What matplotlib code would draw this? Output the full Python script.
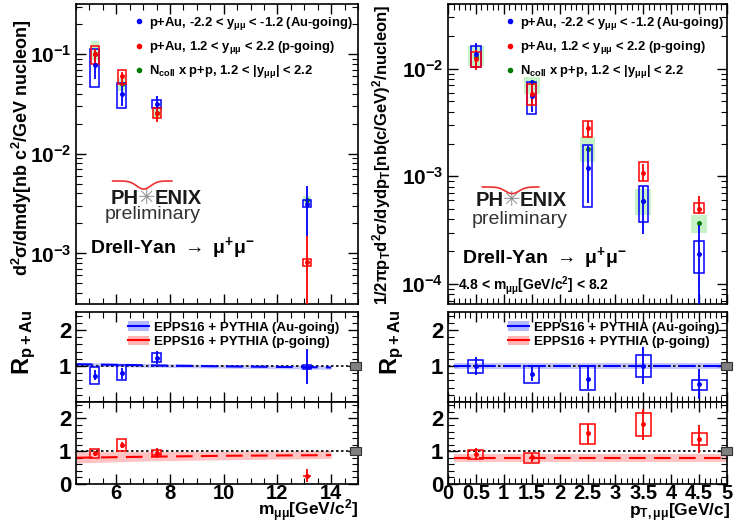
import numpy as np
import matplotlib
matplotlib.use('Agg')
import matplotlib.pyplot as plt
from matplotlib.patches import Rectangle, Patch
from matplotlib.lines import Line2D
from matplotlib.ticker import (MultipleLocator, FormatStrFormatter, NullFormatter,
                               FixedLocator, FixedFormatter)

plt.rcParams['font.family'] = ['Liberation Sans', 'DejaVu Sans']
plt.rcParams['font.weight'] = 'bold'
plt.rcParams['mathtext.fontset'] = 'custom'
plt.rcParams['mathtext.rm'] = 'Liberation Sans:bold'
plt.rcParams['mathtext.it'] = 'Liberation Sans:bold'
plt.rcParams['mathtext.bf'] = 'Liberation Sans:bold'
plt.rcParams['mathtext.default'] = 'rm'

# ---- mass spectrum (left) ----
mass_bins = [5.2, 6.2, 7.5, 13.1]
mass_au = [0.078, 0.040, 0.032, 0.0031]
mass_au_lo = [0.056, 0.030, 0.027, 0.0015]
mass_au_hi = [0.107, 0.050, 0.038, 0.0047]
mass_au_slo = [0.047, 0.029, 0.029, 0.0029]
mass_au_shi = [0.112, 0.052, 0.035, 0.0034]

mass_p = [0.100, 0.060, 0.026, 0.00081]
mass_p_lo = [0.080, 0.048, 0.021, 0.0001]
mass_p_hi = [0.112, 0.066, 0.029, 0.0015]
mass_p_slo = [0.079, 0.050, 0.023, 0.00074]
mass_p_shi = [0.120, 0.069, 0.029, 0.00087]

mass_pp = [0.100, 0.050, 0.026, 0.0034]
mass_pp_lo = [0.088, 0.043, 0.023, 0.0032]
mass_pp_hi = [0.135, 0.058, 0.029, 0.0038]

# ---- pT spectrum (right) ----
pt_bins = [0.5, 1.5, 2.5, 3.5, 4.5]
pt_au = [0.0138, 0.0056, 0.0012, 0.00059, 0.00019]
pt_au_lo = [0.0104, 0.0040, 0.00057, 0.00029, 0.00005]
pt_au_hi = [0.0175, 0.0078, 0.0019, 0.00081, 0.00035]
pt_au_slo = [0.0104, 0.0038, 0.00052, 0.00038, 0.000127]
pt_au_shi = [0.0164, 0.0076, 0.00195, 0.00081, 0.00025]

pt_p = [0.0124, 0.0058, 0.0028, 0.00107, 0.00050]
pt_p_lo = [0.0098, 0.0045, 0.0023, 0.00090, 0.00045]
pt_p_hi = [0.0150, 0.0072, 0.0033, 0.00130, 0.00065]
pt_p_slo = [0.0104, 0.0046, 0.0023, 0.00090, 0.00046]
pt_p_shi = [0.0144, 0.0072, 0.0033, 0.00135, 0.00056]

pt_pp = [0.0130, 0.0076, 0.0018, 0.00059, 0.00037]
pt_pp_lo = [0.0107, 0.0058, 0.00135, 0.00044, 0.00030]
pt_pp_hi = [0.0164, 0.0084, 0.0023, 0.00076, 0.00044]

# ---- R_pAu vs mass ----
rm_au = [0.73, 0.80, 1.22, 0.97]
rm_au_lo = [0.60, 0.65, 1.05, 0.49]
rm_au_hi = [0.90, 0.95, 1.42, 1.47]
rm_au_slo = [0.50, 0.60, 1.10, 0.92]
rm_au_shi = [0.97, 1.03, 1.35, 1.03]

rm_p = [0.94, 1.18, 0.95, 0.24]
rm_p_lo = [0.85, 1.10, 0.80, 0.05]
rm_p_hi = [1.02, 1.27, 1.10, 0.45]
rm_p_slo = [0.80, 1.00, 0.87, 0.24]
rm_p_shi = [1.08, 1.38, 1.05, 0.24]

theo_m = [4.5, 7.0, 10.0, 14.0]
theo_m_au = [1.05, 1.02, 0.99, 0.96]
theo_m_au_lo = [1.00, 0.97, 0.94, 0.91]
theo_m_au_hi = [1.10, 1.07, 1.04, 1.01]
theo_m_p = [0.80, 0.83, 0.86, 0.88]
theo_m_p_lo = [0.64, 0.70, 0.74, 0.78]
theo_m_p_hi = [0.98, 0.99, 1.00, 1.02]

# ---- R_pAu vs pT ----
rp_au = [1.00, 0.78, 0.65, 1.00, 0.49]
rp_au_lo = [0.75, 0.58, 0.35, 0.50, 0.08]
rp_au_hi = [1.25, 0.98, 1.00, 1.52, 0.92]
rp_au_slo = [0.80, 0.54, 0.32, 0.70, 0.33]
rp_au_shi = [1.17, 1.00, 1.00, 1.30, 0.61]

rp_p = [0.90, 0.82, 1.55, 1.82, 1.36]
rp_p_lo = [0.72, 0.66, 1.21, 1.35, 0.94]
rp_p_hi = [1.10, 0.94, 1.82, 2.30, 1.79]
rp_p_slo = [0.77, 0.64, 1.21, 1.45, 1.18]
rp_p_shi = [1.03, 0.94, 1.82, 2.15, 1.55]

theo_pt = [0.1, 5.0]
theo_pt_au = [1.00, 1.00]
theo_pt_au_lo = [0.93, 0.93]
theo_pt_au_hi = [1.08, 1.08]
theo_pt_p = [0.80, 0.80]
theo_pt_p_lo = [0.67, 0.67]
theo_pt_p_hi = [0.92, 0.92]

BLUE = '#0000ff'
RED = '#ff0000'
GREEN = '#007a00'
LGREEN = '#c6f2c6'
LBLUE = '#b4b8ff'
LRED = '#ffb4b4'

W, H = 735, 525
fig = plt.figure(figsize=(W / 100, H / 100), dpi=100)


def px_axes(x0, y0, x1, y1):
    return fig.add_axes([x0 / W, 1 - y1 / H, (x1 - x0) / W, (y1 - y0) / H])


def style(ax):
    ax.tick_params(which='both', direction='in', top=True, right=True, labelsize=13)
    ax.tick_params(which='major', length=7, width=1)
    ax.tick_params(which='minor', length=4, width=0.8)
    for s in ax.spines.values():
        s.set_linewidth(1.2)


def draw_series(ax, x, y, lo, hi, slo, shi, color, w):
    for xi, a, b in zip(x, slo, shi):
        ax.add_patch(Rectangle((xi - w / 2, a), w, b - a, fill=False, ec=color, lw=1.1, zorder=3))
    y = np.array(y)
    ax.errorbar(x, y, yerr=[y - np.array(lo), np.array(hi) - y], fmt='o', ms=2.5,
                color=color, elinewidth=1.3, capsize=0, zorder=4)


def draw_pp(ax, x, y, lo, hi, w):
    for xi, a, b in zip(x, lo, hi):
        ax.add_patch(Rectangle((xi - w / 2, a), w, b - a, fc=LGREEN, ec='none', zorder=1))
    ax.plot(x, y, 'o', ms=2.5, color=GREEN, zorder=2)


def logo(ax, xs, ys, star_x, star_y, prel_x, prel_y):
    ax.plot(xs, ys, color='#ee3030', lw=1.2, transform=ax.transAxes, zorder=5)
    ax.text(star_x - 0.028, star_y, 'PH', transform=ax.transAxes, ha='right', va='center',
            fontsize=14.5, color='#1a1a1a')
    ax.text(star_x, star_y, '\u2733', transform=ax.transAxes, ha='center', va='center',
            fontsize=15, color='#909090', family=['DejaVu Sans'], fontweight='normal')
    ax.text(star_x + 0.028, star_y, 'ENIX', transform=ax.transAxes, ha='left', va='center',
            fontsize=14.5, color='#1a1a1a')
    ax.text(prel_x, prel_y, 'preliminary', transform=ax.transAxes, ha='left', va='center',
            fontsize=14, color='#333333', fontweight='normal')


def legend_top(ax, x0):
    h = [Line2D([], [], marker='o', ms=3, ls='none', color=BLUE),
         Line2D([], [], marker='o', ms=3, ls='none', color=RED),
         Line2D([], [], marker='o', ms=3, ls='none', color=GREEN)]
    lab = [r'p+Au, -2.2 < y$_{\mu\mu}$ < -1.2 (Au-going)',
           r'p+Au, 1.2 < y$_{\mu\mu}$ < 2.2 (p-going)',
           r'N$_{\rm coll}$ x p+p, 1.2 < |y$_{\mu\mu}$| < 2.2']
    ax.legend(h, lab, loc='upper left', bbox_to_anchor=(x0, 1.0), frameon=False, fontsize=9.4,
              handlelength=0.6, handletextpad=0.45, labelspacing=0.55, borderaxespad=0.45)


def legend_ratio(ax, x0):
    h = [(Patch(fc=LBLUE, ec='none'), Line2D([], [], color=BLUE, lw=1.5)),
         (Patch(fc=LRED, ec='none'), Line2D([], [], color=RED, lw=1.5))]
    lab = ['EPPS16 + PYTHIA (Au-going)', 'EPPS16 + PYTHIA (p-going)']
    ax.legend(h, lab, loc='upper left', bbox_to_anchor=(x0, 1.0), frameon=False, fontsize=9.6,
              handlelength=1.6, handletextpad=0.4, labelspacing=0.15, borderaxespad=0.3)


def ratio_common(ax, xr, gray_x, gray_w):
    ax.set_ylim(0, 2.5)
    ax.set_xlim(*xr)
    ax.axhline(1, ls=(0, (1.5, 1.5)), color='k', lw=1.2, zorder=2)
    ax.add_patch(Rectangle((gray_x, 0.88), gray_w, 0.24, fc='#808080', ec='#303030', lw=0.8,
                           clip_on=False, zorder=6))
    ax.yaxis.set_major_locator(FixedLocator([0, 1, 2]))
    ax.yaxis.set_minor_locator(MultipleLocator(0.2))
    style(ax)


# ===== left column =====
axL = px_axes(76, 4, 358, 304)
axL1 = px_axes(76, 312, 358, 402)
axL2 = px_axes(76, 402, 358, 484)

draw_pp(axL, mass_bins, mass_pp, mass_pp_lo, mass_pp_hi, 0.3)
draw_series(axL, mass_bins, mass_au, mass_au_lo, mass_au_hi, mass_au_slo, mass_au_shi, BLUE, 0.33)
draw_series(axL, mass_bins, mass_p, mass_p_lo, mass_p_hi, mass_p_slo, mass_p_shi, RED, 0.3)
axL.set_yscale('log')
axL.set_ylim(3.1e-4, 0.32)
axL.set_xlim(4.5, 15)
axL.xaxis.set_major_locator(MultipleLocator(2))
axL.xaxis.set_minor_locator(MultipleLocator(0.5))
axL.xaxis.set_major_formatter(NullFormatter())
style(axL)
axL.tick_params(axis='y', labelsize=15)
legend_top(axL, 0.17)
sw_x = np.linspace(0.13, 0.34, 40)
sw_y = 0.41 - 0.027 * np.exp(-((sw_x - 0.24) / 0.035) ** 2)
logo(axL, sw_x, sw_y, 0.252, 0.352, 0.1, 0.298)
axL.text(0.05, 0.187, r'Drell-Yan $\rightarrow$ $\mu^{+}\mu^{-}$', transform=axL.transAxes,
         ha='left', va='center', fontsize=14)

for ax in (axL1, axL2):
    ratio_common(ax, (4.5, 15), 14.72, 0.4)
    ax.xaxis.set_major_locator(MultipleLocator(2))
    ax.xaxis.set_minor_locator(MultipleLocator(0.5))
axL1.fill_between(theo_m, theo_m_au_lo, theo_m_au_hi, color=LBLUE, lw=0, alpha=0.8, zorder=1)
axL1.plot(theo_m, theo_m_au, color=BLUE, lw=1.5, ls=(0, (8, 4)), zorder=2)
draw_series(axL1, mass_bins, rm_au, rm_au_lo, rm_au_hi, rm_au_slo, rm_au_shi, BLUE, 0.33)
axL2.fill_between(theo_m, theo_m_p_lo, theo_m_p_hi, color=LRED, lw=0, alpha=0.8, zorder=1)
axL2.plot(theo_m, theo_m_p, color=RED, lw=1.5, ls=(0, (8, 4)), zorder=2)
draw_series(axL2, mass_bins, rm_p, rm_p_lo, rm_p_hi, rm_p_slo, rm_p_shi, RED, 0.33)
axL1.xaxis.set_major_formatter(NullFormatter())
axL1.yaxis.set_major_formatter(FixedFormatter(['', '1', '2']))
axL2.xaxis.set_major_formatter(FormatStrFormatter('%d'))
axL1.tick_params(axis='y', labelsize=16)
axL2.tick_params(axis='y', labelsize=16)
axL2.tick_params(axis='x', labelsize=14.5, pad=0)
legend_ratio(axL1, 0.15)

# ===== right column =====
axR = px_axes(448, 4, 727, 304)
axR1 = px_axes(448, 312, 727, 402)
axR2 = px_axes(448, 402, 727, 484)

draw_pp(axR, pt_bins, pt_pp, pt_pp_lo, pt_pp_hi, 0.28)
draw_series(axR, pt_bins, pt_au, pt_au_lo, pt_au_hi, pt_au_slo, pt_au_shi, BLUE, 0.17)
draw_series(axR, pt_bins, pt_p, pt_p_lo, pt_p_hi, pt_p_slo, pt_p_shi, RED, 0.17)
axR.set_yscale('log')
axR.set_ylim(6.5e-5, 0.04)
axR.set_xlim(0, 5)
axR.xaxis.set_major_locator(MultipleLocator(0.5))
axR.xaxis.set_minor_locator(MultipleLocator(0.1))
axR.xaxis.set_major_formatter(NullFormatter())
style(axR)
axR.tick_params(axis='y', labelsize=15)
legend_top(axR, 0.17)
sw_x = np.linspace(0.123, 0.325, 40)
sw_y = 0.39 - 0.022 * np.exp(-((sw_x - 0.23) / 0.035) ** 2)
logo(axR, sw_x, sw_y, 0.227, 0.346, 0.085, 0.282)
axR.text(0.05, 0.153, r'Drell-Yan $\rightarrow$ $\mu^{+}\mu^{-}$', transform=axR.transAxes,
         ha='left', va='center', fontsize=14)
axR.text(0.036, 0.06, r'4.8 < m$_{\mu\mu}$[GeV/c$^2$] < 8.2', transform=axR.transAxes,
         ha='left', va='center', fontsize=10)

for ax in (axR1, axR2):
    ratio_common(ax, (0, 5), 4.89, 0.2)
    ax.xaxis.set_major_locator(MultipleLocator(0.5))
    ax.xaxis.set_minor_locator(MultipleLocator(0.1))
axR1.fill_between(theo_pt, theo_pt_au_lo, theo_pt_au_hi, color=LBLUE, lw=0, alpha=0.8, zorder=1)
axR1.plot(theo_pt, theo_pt_au, color=BLUE, lw=1.5, ls=(0, (8, 4)), zorder=2)
draw_series(axR1, pt_bins, rp_au, rp_au_lo, rp_au_hi, rp_au_slo, rp_au_shi, BLUE, 0.27)
axR2.fill_between(theo_pt, theo_pt_p_lo, theo_pt_p_hi, color=LRED, lw=0, alpha=0.8, zorder=1)
axR2.plot(theo_pt, theo_pt_p, color=RED, lw=1.5, ls=(0, (8, 4)), zorder=2)
draw_series(axR2, pt_bins, rp_p, rp_p_lo, rp_p_hi, rp_p_slo, rp_p_shi, RED, 0.27)
axR1.xaxis.set_major_formatter(NullFormatter())
axR1.yaxis.set_major_formatter(FixedFormatter(['', '1', '2']))
axR2.xaxis.set_major_formatter(FormatStrFormatter('%g'))
axR1.tick_params(axis='y', labelsize=16)
axR2.tick_params(axis='y', labelsize=16)
axR2.tick_params(axis='x', labelsize=14.5, pad=0)
legend_ratio(axR1, 0.18)

# ===== axis titles =====
fig.text(22 / W, 1 - 148 / H, r'd$^2\sigma$/dmdy[nb c$^2$/GeV nucleon]', rotation=90,
         ha='center', va='center', fontsize=13)
fig.text(382 / W, 1 - 155 / H, r'1/2$\pi$p$_{\rm T}$d$^2\sigma$/dydp$_{\rm T}$[nb(c/GeV)$^2$/nucleon]',
         rotation=90, ha='center', va='center', fontsize=12)
fig.text(24 / W, 1 - 342 / H, r'R$_{\rm p+Au}$', rotation=90, ha='center', va='center', fontsize=17)
fig.text(392 / W, 1 - 342 / H, r'R$_{\rm p+Au}$', rotation=90, ha='center', va='center', fontsize=17)
fig.text(358 / W, 1 - 524 / H, r'm$_{\mu\mu}$[GeV/c$^2$]', ha='right', va='bottom', fontsize=12.5)
fig.text(730 / W, 1 - 524 / H, r'p$_{\rm T,\mu\mu}$[GeV/c]', ha='right', va='bottom', fontsize=12.5)

fig.savefig('out.png', dpi=100)
